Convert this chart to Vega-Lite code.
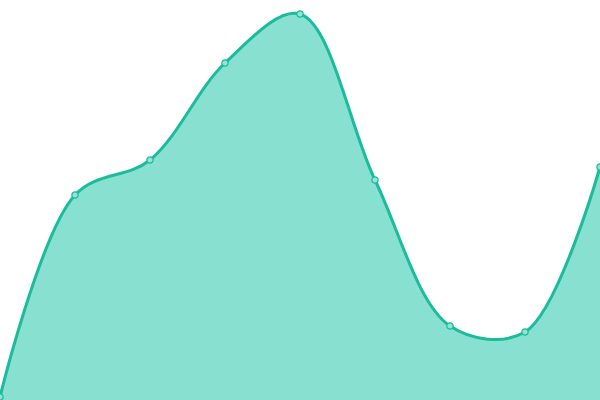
{
  "$schema": "https://vega.github.io/schema/vega-lite/v6.json",
  "width": 600,
  "height": 400,
  "autosize": {"type": "fit", "contains": "padding"},
  "padding": 0,
  "background": "white",
  "view": {"stroke": null},
  "data": {
    "values": [
      {"i": 0, "v": 3},
      {"i": 1, "v": 205},
      {"i": 2, "v": 240},
      {"i": 3, "v": 337},
      {"i": 4, "v": 386},
      {"i": 5, "v": 220},
      {"i": 6, "v": 74},
      {"i": 7, "v": 68},
      {"i": 8, "v": 233}
    ]
  },
  "encoding": {
    "x": {"field": "i", "type": "quantitative", "axis": null, "scale": {"domain": [0, 8], "nice": false, "zero": false}},
    "y": {"field": "v", "type": "quantitative", "axis": null, "scale": {"domain": [0, 400], "nice": false}}
  },
  "layer": [
    {
      "mark": {"type": "area", "interpolate": "catmull-rom", "color": "#88e0d0", "opacity": 1, "clip": true}
    },
    {
      "mark": {"type": "line", "interpolate": "catmull-rom", "color": "#1abc9c", "strokeWidth": 3, "clip": true}
    },
    {
      "mark": {"type": "point", "shape": "circle", "size": 40, "filled": true, "fill": "#94e3d4", "stroke": "#1abc9c", "strokeWidth": 1.2, "opacity": 1, "clip": true}
    }
  ]
}
